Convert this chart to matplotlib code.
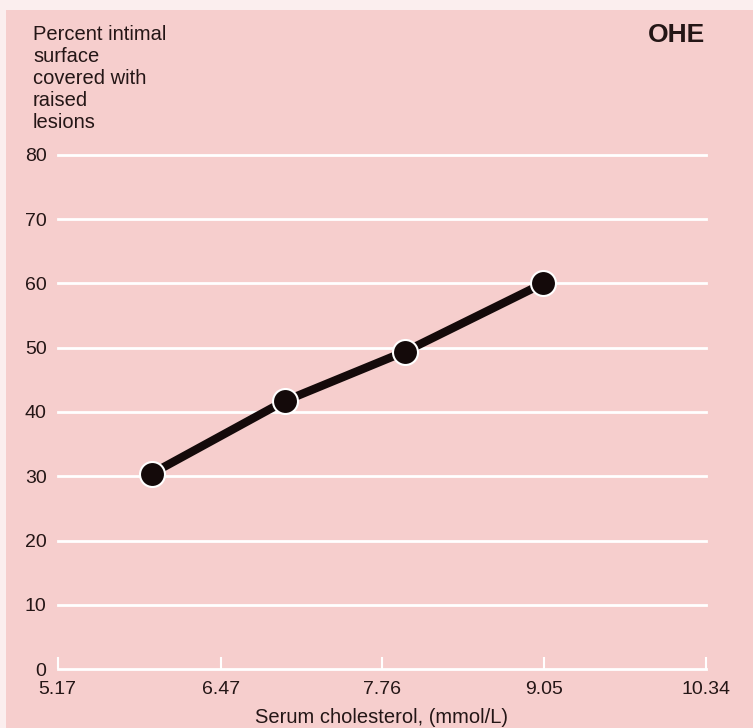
# Serum cholesterol vs raised lesions chart
import matplotlib.pyplot as plt
from matplotlib.patches import Rectangle

plt.rcParams['font.family'] = ['Liberation Sans', 'DejaVu Sans']

# data
cholesterol = [5.92, 6.98, 7.94, 9.04]
lesions = [30.4, 41.7, 49.4, 60.0]
x_ticks = [5.17, 6.47, 7.76, 9.05, 10.34]
x_tick_labels = ['5.17', '6.47', '7.76', '9.05', '10.34']
y_ticks = [0, 10, 20, 30, 40, 50, 60, 70, 80]

PINK = '#f6cecd'
INK = '#241616'
W, H = 753, 728

fig = plt.figure(figsize=(W / 100, H / 100), dpi=100)
fig.patch.set_facecolor('#fbeeee')
fig.patches.append(Rectangle((6 / W, 0), 1, 1 - 10 / H, transform=fig.transFigure,
                             facecolor=PINK, edgecolor='none', zorder=-5))

ax = fig.add_axes([57.6 / W, (H - 669) / H, (706 - 57.6) / W, (669 - 155) / H])
ax.set_facecolor('none')
ax.set_zorder(2)
ax.set_xlim(5.17, 10.34)
ax.set_ylim(0, 80)
for s in ax.spines.values():
    s.set_visible(False)

# white gridlines and baseline
for yv in y_ticks:
    ax.axhline(yv, color='white', lw=2, zorder=1, clip_on=False)

ax.set_xticks(x_ticks)
ax.set_xticklabels(x_tick_labels)
ax.tick_params(axis='x', direction='in', length=9, width=1.5, color='white',
               labelsize=14, labelcolor=INK, pad=9)
ax.set_yticks(y_ticks)
ax.tick_params(axis='y', length=0, labelsize=14, labelcolor=INK, pad=8)

ax.plot(cholesterol, lesions, color='#140a0a', lw=6, zorder=3, clip_on=False,
        marker='o', markersize=18, markerfacecolor='#140a0a',
        markeredgecolor='white', markeredgewidth=1.5)

ax.set_xlabel('Serum cholesterol, (mmol/L)', fontsize=14.5, color=INK, labelpad=7)

fig.text(33 / W, 1 - 25 / H, 'Percent intimal\nsurface\ncovered with\nraised\nlesions',
         ha='left', va='top', fontsize=14.5, color=INK, linespacing=1.2)

fig.text(705 / W, 1 - 35 / H, 'OHE', ha='right', va='center', fontsize=19,
         fontweight='bold', color=INK)

plt.savefig('out.png', dpi=100)
